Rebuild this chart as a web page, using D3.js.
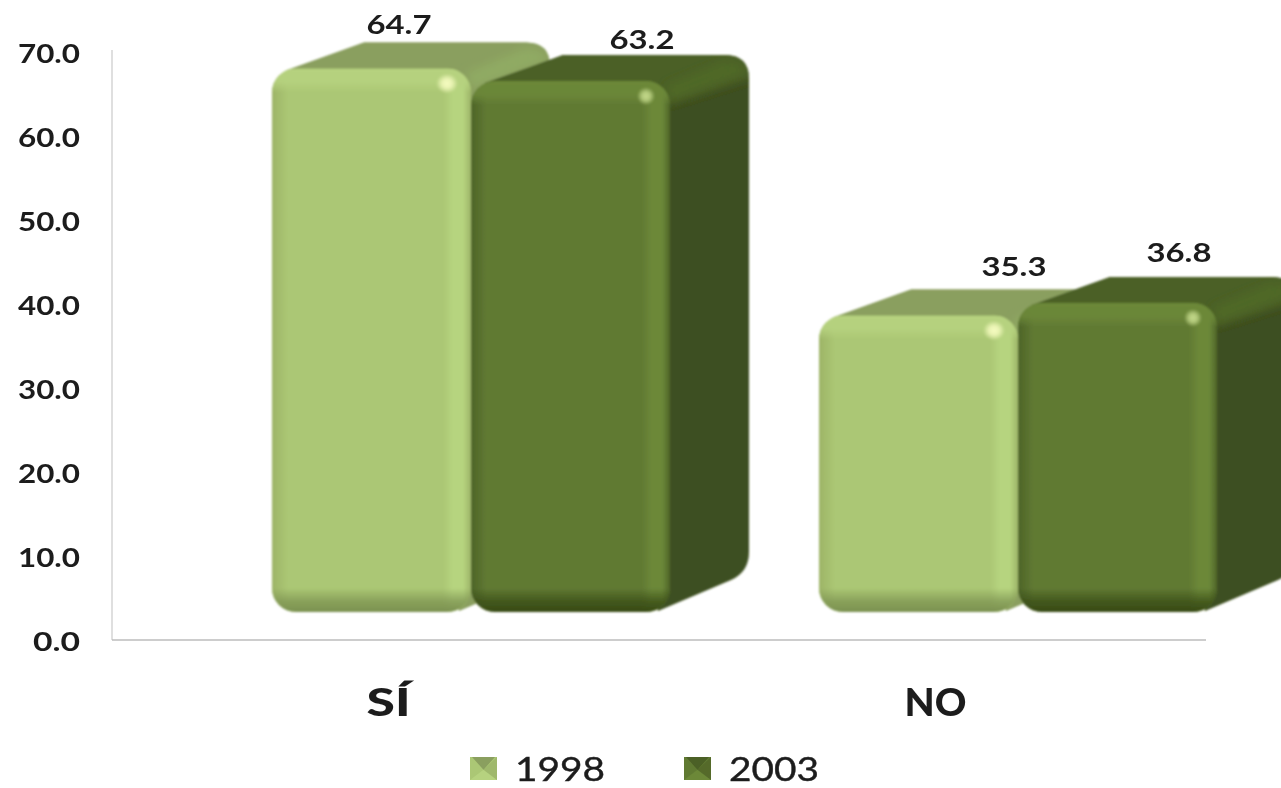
<!DOCTYPE html>
<html lang="es">
<head>
<meta charset="utf-8">
<script src="https://cdn.jsdelivr.net/npm/d3@7/dist/d3.min.js"></script>
<style>
html,body{margin:0;padding:0;background:#fff;overflow:hidden}
svg{display:block}
text{font-family:Lato,"Open Sans",sans-serif;fill:#1c1c1c}
</style>
</head>
<body>
<svg id="chart" width="1281" height="788"></svg>
<script>
const categories = ["SÍ", "NO"];
const seriesNames = ["1998", "2003"];
const values1998 = [64.7, 35.3];
const values2003 = [63.2, 36.8];
const tickValues = [0, 10, 20, 30, 40, 50, 60, 70];

const svg = d3.select("#chart");
const defs = svg.append("defs");
const margin = {left: 112, right: 1206, top: 52, bottom: 640};
const depth = {dx: 79, dy: 26, floor: 28};
const radius = 24;

const y = d3.scaleLinear().domain([0, 70]).range([margin.bottom, margin.top]);
const xCat = d3.scaleBand().domain(categories).range([margin.left, margin.right]);
const barShift = 160;
const xSeries = d3.scaleBand().domain(seriesNames).range([0, 398]);

const themes = {
  "1998": {front:"#abc774", top:"#8a9f5e", topLight:"#90aa64", side:"#8a9f5e",
           bevelTop:"#b6d27f", bevelRight:"#b6d47f", edge:"#9db467", bottom:"#7b9150", spot:"#f6fcc0"},
  "2003": {front:"#617a33", top:"#4c6025", topLight:"#506726", side:"#3e4f20",
           bevelTop:"#6c8839", bevelRight:"#6c8839", edge:"#4d6428", bottom:"#374a15", spot:"#c3d98a"}
};

function softFilter(id, dev){
  defs.append("filter").attr("id",id).attr("filterUnits","userSpaceOnUse")
    .attr("x",-1400).attr("y",-900).attr("width",4000).attr("height",2600)
    .append("feGaussianBlur").attr("stdDeviation",dev);
}
softFilter("soft",1.2);
softFilter("softText",0.5);
softFilter("softWide",4);

function grad(id, dir, stops){
  const g = defs.append("linearGradient").attr("id",id)
    .attr("x1",0).attr("y1",0)
    .attr("x2",dir==="h"?1:0).attr("y2",dir==="h"?0:1);
  stops.forEach(s=>g.append("stop").attr("offset",s[0]).attr("stop-color",s[1]).attr("stop-opacity",s[2]));
}
seriesNames.forEach(k=>{
  const t = themes[k];
  grad("t"+k,"v",[[0,t.bevelTop,1],[.55,t.bevelTop,.9],[1,t.bevelTop,0]]);
  grad("b"+k,"v",[[0,t.bottom,0],[.55,t.bottom,.7],[1,t.bottom,1]]);
  grad("l"+k,"h",[[0,t.edge,1],[1,t.edge,0]]);
  grad("r"+k,"h",[[0,t.bevelRight,0],[.35,t.bevelRight,1],[.72,t.bevelRight,1],[1,t.edge,.9]]);
  const s = defs.append("radialGradient").attr("id","s"+k);
  s.append("stop").attr("offset",0).attr("stop-color",t.spot).attr("stop-opacity",1);
  s.append("stop").attr("offset",.45).attr("stop-color",t.spot).attr("stop-opacity",.8);
  s.append("stop").attr("offset",1).attr("stop-color",t.spot).attr("stop-opacity",0);
});

// axes
const gy = svg.append("g").attr("transform",`translate(${margin.left},0)`)
  .call(d3.axisLeft(y).tickValues(tickValues).tickFormat(d3.format(".1f")).tickSize(0).tickPadding(32));
gy.select(".domain").attr("stroke","#d4d4d4").attr("stroke-width",1.5)
  .attr("d",`M0,${margin.bottom}V${margin.top-2}`);
gy.selectAll("text").attr("font-size",26).attr("font-weight",700).attr("dy","0.39em")
  .attr("style","font-family:Lato,sans-serif").attr("filter","url(#softText)")
  .each(function(d){ d3.select(this).attr("textLength", d===0?47:62).attr("lengthAdjust","spacingAndGlyphs"); });

const gx = svg.append("g").attr("transform",`translate(0,${margin.bottom})`)
  .call(d3.axisBottom(xCat).tickSize(0).tickPadding(49));
gx.select(".domain").attr("stroke","#bdbdbd").attr("stroke-width",1.5)
  .attr("d",`M${margin.left},0H${margin.right}`);
gx.selectAll("text").attr("font-size",38).attr("font-weight",900)
  .attr("style","font-family:Lato,sans-serif").attr("filter","url(#softText)")
  .attr("dx",3)
  .each(function(d){ d3.select(this).attr("textLength", d==="SÍ"?44:62).attr("lengthAdjust","spacingAndGlyphs"); });

// bars
const marks = svg.append("g").attr("filter","url(#soft)");
let clipId = 0;
function drawBar(cat, series, value){
  const x0 = xCat(cat) + barShift + xSeries(series);
  const w = xSeries.bandwidth();
  const x1 = x0 + w;
  const base = y(0) - depth.floor;
  const top = base - (y(0) - y(value));
  const t = themes[series];
  const g = marks.append("g");
  const {dx, dy} = depth, r = radius;

  // side + silhouette
  const sil = `M${x0+14},${top+2}L${x0+92},${top-dy}H${x1+dx-r}Q${x1+dx},${top-dy} ${x1+dx},${top-dy+r}`+
    `V${base-dy-r-10}Q${x1+dx},${base-dy-14} ${x1+dx-18},${base-dy-6}L${x1-12},${base-1}`+
    `L${x1-20},${base-30}H${x0+14}Z`;
  const sid = "sc"+(clipId++);
  defs.append("clipPath").attr("id",sid).append("path").attr("d",sil);
  const body = g.append("g").attr("clip-path",`url(#${sid})`);
  body.append("rect").attr("x",x0).attr("y",top-dy-2).attr("width",w+dx+4).attr("height",base-top+dy+4).attr("fill",t.side);
  body.append("path").attr("fill",t.top).attr("filter","url(#softWide)").attr("d",
    `M${x0},${top-dy-10}H${x1+dx+10}V${top-dy+r-4}L${x1},${top+22}H${x0}Z`);
  body.append("path").attr("fill",t.topLight).attr("filter","url(#softWide)").attr("d",
    `M${x1-4},${top+4}L${x1+54},${top-dy+6}Q${x1+dx-6},${top-dy+6} ${x1+dx-2},${top-dy+r-6}L${x1},${top+20}Z`);

  // front face
  const id = "fc"+(clipId++);
  defs.append("clipPath").attr("id",id).append("rect")
    .attr("x",x0).attr("y",top).attr("width",w).attr("height",base-top).attr("rx",r).attr("ry",r);
  const f = g.append("g").attr("clip-path",`url(#${id})`);
  f.append("rect").attr("x",x0).attr("y",top).attr("width",w).attr("height",base-top).attr("fill",t.front);
  f.append("rect").attr("x",x0).attr("y",top).attr("width",16).attr("height",base-top).attr("fill",`url(#l${series})`);
  f.append("rect").attr("x",x1-28).attr("y",top).attr("width",28).attr("height",base-top).attr("fill",`url(#r${series})`);
  f.append("rect").attr("x",x0).attr("y",top).attr("width",w).attr("height",24).attr("fill",`url(#t${series})`);
  f.append("rect").attr("x",x0).attr("y",base-24).attr("width",w).attr("height",24).attr("fill",`url(#b${series})`);
  // highlight
  g.append("ellipse").attr("cx",x1-24).attr("cy",top+15).attr("rx",series==="1998"?11:9).attr("ry",series==="1998"?10:9)
    .attr("fill",`url(#s${series})`);
}
const seriesValues = {"1998": values1998, "2003": values2003};
categories.forEach((c,i)=>seriesNames.forEach(s=>drawBar(c,s,seriesValues[s][i])));

// value labels (offsets from the front-face corner as placed in the source chart)
const labelOffsets = {"1998":[[127,-44],[195,-49]], "2003":[[171,-41],[161,-50]]};
const labels = svg.append("g").attr("filter","url(#softText)");
categories.forEach((c,i)=>seriesNames.forEach(s=>{
  const v = seriesValues[s][i];
  const x0 = xCat(c) + barShift + xSeries(s);
  const top = y(0) - depth.floor - (y(0) - y(v));
  const o = labelOffsets[s][i];
  labels.append("text").attr("x",x0+o[0]).attr("y",top+o[1]).attr("dy","0.36em")
    .attr("text-anchor","middle").attr("font-size",26).attr("font-weight",700)
    .attr("textLength",65).attr("lengthAdjust","spacingAndGlyphs")
    .text(d3.format(".1f")(v));
}));

// legend
const legendX = d3.scaleOrdinal().domain(seriesNames).range([470, 684]);
const legend = svg.append("g");
seriesNames.forEach(s=>{
  const t = themes[s], x = legendX(s), yy = 757, w = 27, h = 23;
  const g = legend.append("g").attr("filter","url(#softText)");
  g.append("rect").attr("x",x).attr("y",yy).attr("width",w).attr("height",h).attr("fill",t.front);
  g.append("path").attr("fill",t.top).attr("d",`M${x+2},${yy}H${x+w-2}L${x+w/2},${yy+h*.55}Z`);
  g.append("path").attr("fill",t.bevelTop).attr("d",`M${x},${yy+h}H${x+w}L${x+w/2},${yy+h*.55}Z`);
  g.append("path").attr("fill",t.side).attr("opacity",.35).attr("d",`M${x+w},${yy}V${yy+h}L${x+w/2},${yy+h*.55}Z`);
  legend.append("text").attr("x",x+45).attr("y",780.5)
    .attr("font-size",33.5).attr("filter","url(#softText)").attr("textLength",90).attr("lengthAdjust","spacingAndGlyphs")
    .attr("stroke","#1c1c1c").attr("stroke-width",0.4)
    .text(s);
});
</script>
</body>
</html>
